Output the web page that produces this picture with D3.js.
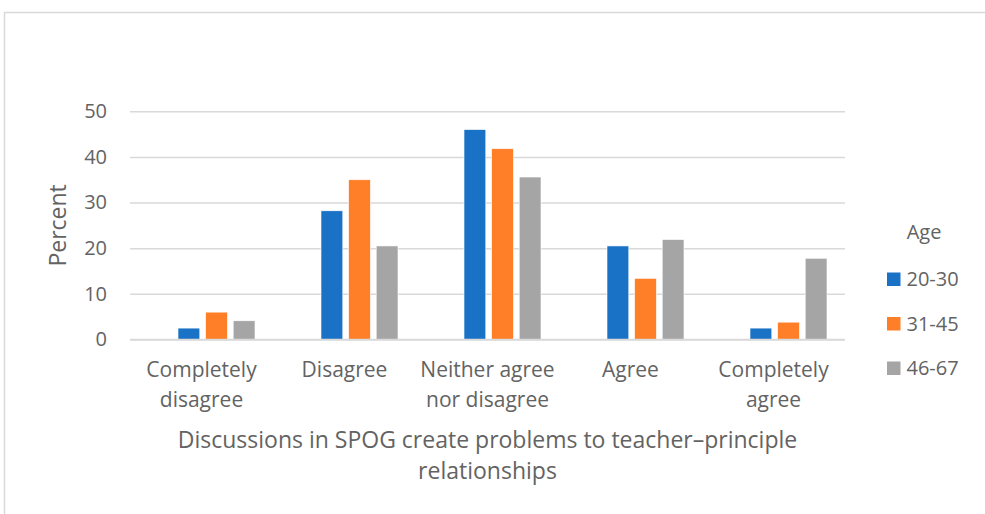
<!DOCTYPE html>
<html>
<head>
<meta charset="utf-8">
<script src="https://cdn.jsdelivr.net/npm/d3@7/dist/d3.min.js"></script>
<style>
  html, body { margin: 0; padding: 0; background: #fff; }
  svg { display: block; }
  text { font-family: "Open Sans", Lato, sans-serif; fill: #636363; }
</style>
</head>
<body>
<svg id="chart" width="985" height="514"></svg>
<script>
// Response categories (x axis), two-line labels
const categories = ["Completely disagree", "Disagree", "Neither agree nor disagree", "Agree", "Completely agree"];
const categoryLines = [["Completely", "disagree"], ["Disagree"], ["Neither agree", "nor disagree"], ["Agree"], ["Completely", "agree"]];

// Age groups (series)
const series = ["20-30", "31-45", "46-67"];
const seriesColors = ["#1A72C7", "#FE7F28", "#A5A5A5"];

// Percent per category, one array per age group
const age20_30 = [2.5, 28.2, 46.0, 20.5, 2.5];
const age31_45 = [6.0, 35.0, 41.8, 13.4, 3.8];
const age46_67 = [4.1, 20.5, 35.6, 21.9, 17.8];
const seriesValues = [age20_30, age31_45, age46_67];

const yTicks = [0, 10, 20, 30, 40, 50];

const svg = d3.select("#chart");

// Outer chart frame
svg.append("rect")
  .attr("x", 4.5).attr("y", 12.5)
  .attr("width", 1000).attr("height", 600)
  .attr("fill", "none").attr("stroke", "#D9D9D9").attr("stroke-width", 1.5);

const plot = { left: 130, right: 845, top: 111.3, bottom: 339.5 };

const y = d3.scaleLinear().domain([0, 50]).range([plot.bottom, plot.top]);
const x = d3.scaleBand().domain(categories).range([plot.left, plot.right]);
const groupShift = 13;   // bar clusters sit slightly right of the label centres
const xs = d3.scaleBand().domain(series).range([0, 77]).paddingInner(0.21).paddingOuter(0);

// Gridlines and value ticks
const yAxis = d3.axisLeft(y).tickValues(yTicks).tickSize(-(plot.right - plot.left)).tickPadding(23);
const gy = svg.append("g").attr("transform", `translate(${plot.left},0)`).call(yAxis);
gy.select(".domain").remove();
gy.selectAll(".tick line").attr("stroke", "#D9D9D9").attr("stroke-width", 1.5);
gy.selectAll(".tick text").attr("font-size", 20).attr("fill", "#636363")
  .style("font-family", "'Open Sans', sans-serif");

// Bars
const groups = svg.append("g").selectAll("g")
  .data(categories)
  .join("g")
  .attr("transform", c => `translate(${x(c) + x.bandwidth() / 2 + groupShift - 36.5},0)`);

groups.selectAll("rect")
  .data((c, i) => series.map((s, k) => ({ s, k, v: seriesValues[k][i] })))
  .join("rect")
  .attr("x", d => xs(d.s))
  .attr("width", xs.bandwidth())
  .attr("y", d => y(d.v))
  .attr("height", d => y(0) - y(d.v))
  .attr("fill", d => seriesColors[d.k])
  .attr("stroke", "#fff").attr("stroke-width", 0.6);

// Baseline over the bars
svg.append("line")
  .attr("x1", plot.left).attr("x2", plot.right)
  .attr("y1", y(0)).attr("y2", y(0))
  .attr("stroke", "#D9D9D9").attr("stroke-width", 1.5);

// Category labels
const catG = svg.append("g");
categories.forEach((c, i) => {
  const t = catG.append("text")
    .attr("x", x(c) + x.bandwidth() / 2)
    .attr("y", 377)
    .attr("text-anchor", "middle")
    .attr("font-size", 21);
  categoryLines[i].forEach((line, j) => {
    t.append("tspan").attr("x", x(c) + x.bandwidth() / 2).attr("dy", j === 0 ? 0 : 30).text(line);
  });
});

// Axis titles
const xTitle = svg.append("text")
  .attr("x", (plot.left + plot.right) / 2).attr("y", 448)
  .attr("text-anchor", "middle").attr("font-size", 23);
xTitle.append("tspan").attr("x", (plot.left + plot.right) / 2).attr("dy", 0)
  .text("Discussions in SPOG create problems to teacher\u2013principle");
xTitle.append("tspan").attr("x", (plot.left + plot.right) / 2).attr("dy", 31)
  .text("relationships");

svg.append("text")
  .attr("transform", `translate(${66},${(plot.top + plot.bottom) / 2}) rotate(-90)`)
  .attr("text-anchor", "middle").attr("font-size", 23)
  .text("Percent");

// Legend
const legend = svg.append("g").attr("transform", "translate(887,0)");
legend.append("text").attr("x", 37).attr("y", 239).attr("text-anchor", "middle")
  .attr("font-size", 20).text("Age");
series.forEach((s, k) => {
  const yy = 272.5 + k * 44.5;
  legend.append("rect").attr("x", 0).attr("y", yy).attr("width", 13.5).attr("height", 13.5)
    .attr("fill", seriesColors[k]);
  legend.append("text").attr("x", 19.5).attr("y", yy + 13.5).attr("font-size", 20).text(s);
});
</script>
</body>
</html>
